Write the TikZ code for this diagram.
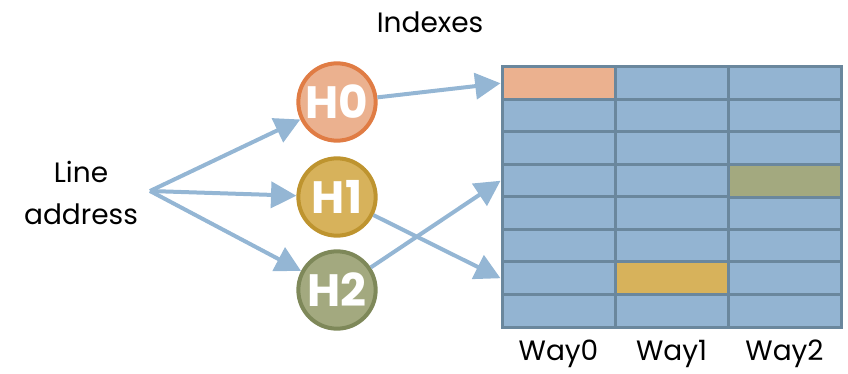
\documentclass[tikz,border=0pt]{standalone}
\usepackage{fontspec}
\setmainfont{Poppins}
\usetikzlibrary{arrows.meta,positioning}
\definecolor{linkblue}{HTML}{94B6D4}
\definecolor{cellblue}{HTML}{93B4D2}
\definecolor{gridgray}{HTML}{6A879D}
\definecolor{hzerofill}{HTML}{EBB18F}
\definecolor{hzeroline}{HTML}{E07C44}
\definecolor{honefill}{HTML}{D7B25B}
\definecolor{honeline}{HTML}{BE942F}
\definecolor{htwofill}{HTML}{A3A97F}
\definecolor{htwoline}{HTML}{7E8859}

\begin{document}
\begin{tikzpicture}[x=0.75pt,y=-0.75pt,
        hashnode/.style={circle, line width=3pt, minimum size=58pt, inner sep=0pt, text=white, font=\bfseries\fontsize{34}{36}\selectfont},
        cell/.style={rectangle, draw=gridgray, line width=2.25pt, fill=cellblue, minimum width=84.75pt, minimum height=24.4pt, inner sep=0pt},
        link/.style={draw=linkblue, line width=3pt, -{Triangle[length=19pt,width=19.5pt]}},
        txt/.style={font=\fontsize{21}{32}\selectfont}]
        \useasboundingbox (0,0) rectangle (848,374);
        % the table of ways
        \foreach \r in {1,...,8}
            \foreach \c in {0,1,2}
                \node[cell] (c\r\c) at ({502+113*(\c+0.5)},{67+32.5*(\r-0.5)}) {};
        \node[cell, fill=hzerofill] at (c10) {};
        \node[cell, fill=htwofill] at (c42) {};
        \node[cell, fill=honefill] at (c71) {};
        \node[txt, below=5pt of c80] {Way0};
        \node[txt, below=5pt of c81] {Way1};
        \node[txt, below=5pt of c82] {Way2};
        % hash functions
        \node[hashnode, fill=hzerofill, draw=hzeroline] (h0) at (337,102) {H0};
        \node[hashnode, fill=honefill, draw=honeline] (h1) at (337,197) {H1};
        \node[hashnode, fill=htwofill, draw=htwoline] (h2) at (337,290) {H2};
        \node[txt] (idx) at (430,22) {Indexes};
        \node[txt, align=center] (addr) at (81,193) {Line\\address};
        \coordinate (fork) at (150,191);
        \draw[link] (fork) -- (h0);
        \draw[link] (fork) -- (h1);
        \draw[link] (fork) -- (h2);
        \draw[link] (h0) -- (c10.west);
        \draw[link] (h1) -- (c70.west);
        \draw[link] (h2) -- (c40.west);
\end{tikzpicture}
\end{document}
